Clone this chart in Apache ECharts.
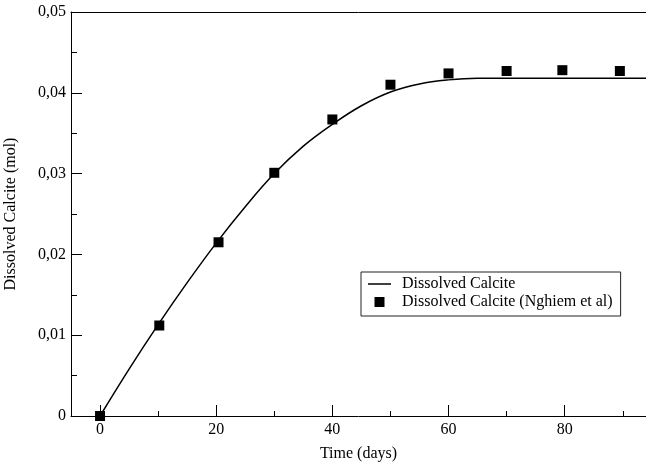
<!DOCTYPE html>
<html>
<head>
<meta charset="utf-8">
<script src="https://cdn.jsdelivr.net/npm/echarts@6/dist/echarts.min.js"></script>
<style>
html,body{margin:0;padding:0;background:#fff;}
#chart{width:646px;height:468px;}
</style>
</head>
<body>
<div id="chart"></div>
<script>
// Model curve (Dissolved Calcite)
const curveDays   = [0, 5, 10, 15, 20, 25, 30, 35, 40, 45, 50, 55, 60, 65, 70, 75, 80, 85, 90, 95];
const curveValues = [0, 0.0058, 0.0113, 0.0165, 0.0214, 0.0259, 0.0300, 0.0334, 0.0361, 0.0384, 0.0401, 0.0411, 0.0416, 0.0418, 0.0418, 0.0418, 0.0418, 0.0418, 0.0418, 0.0418];
// Observations (Nghiem et al)
const obsDays   = [0, 10.2, 20.4, 30, 40, 50, 60, 70, 79.6, 89.5];
const obsValues = [0, 0.0112, 0.0215, 0.0301, 0.0367, 0.0410, 0.0424, 0.0427, 0.0428, 0.0427];
// Axis ticks
const xMajorTicks = [0, 20, 40, 60, 80];
const xMinorTicks = [10, 30, 50, 70, 90];
const lineName = 'Dissolved Calcite';
const obsName = 'Dissolved Calcite (Nghiem et al)';

const FONT = 'Liberation Serif';
const chart = echarts.init(document.getElementById('chart'));
chart.setOption({
  animation: false,
  backgroundColor: '#fff',
  grid: { left: 71, right: 0, top: 12, bottom: 52, containLabel: false, outerBoundsMode: 'none' },
  legend: {
    orient: 'vertical',
    left: 361, top: 272,
    padding: [4, 8, 6, 7],
    itemGap: 2,
    itemWidth: 23, itemHeight: 10,
    borderColor: '#222', borderWidth: 1,
    textStyle: { fontFamily: FONT, fontSize: 16, color: '#000', padding: [0, 0, 0, 6] },
    data: [
      { name: lineName, icon: 'path://M0,0L23,0L23,1.5L0,1.5Z' },
      { name: obsName, icon: 'path://M0,0L1,0L1,1L0,1Z' }
    ]
  },
  xAxis: [
    {
      type: 'value', min: -5, max: 94, position: 'bottom',
      name: 'Time (days)', nameLocation: 'middle', nameGap: 30,
      nameTextStyle: { fontFamily: FONT, fontSize: 16, color: '#000' },
      axisLine: { show: true, onZero: false, lineStyle: { color: '#000', width: 1 } },
      axisTick: { show: true, inside: true, length: 11, customValues: xMajorTicks, lineStyle: { color: '#000' } },
      axisLabel: { customValues: xMajorTicks, fontFamily: FONT, fontSize: 16, color: '#000', margin: 6 },
      splitLine: { show: false }
    },
    {
      type: 'value', min: -5, max: 94, position: 'bottom',
      axisLine: { show: false, onZero: false },
      axisTick: { show: true, inside: true, length: 5, customValues: xMinorTicks, lineStyle: { color: '#000' } },
      axisLabel: { show: false },
      splitLine: { show: false }
    },
    {
      type: 'value', min: -5, max: 94, position: 'top',
      axisLine: { show: true, onZero: false, lineStyle: { color: '#000', width: 1 } },
      axisTick: { show: false },
      axisLabel: { show: false },
      splitLine: { show: false }
    }
  ],
  yAxis: {
    type: 'value', min: 0, max: 0.05, interval: 0.01,
    name: 'Dissolved Calcite (mol)', nameLocation: 'middle', nameGap: 52,
    nameTextStyle: { fontFamily: FONT, fontSize: 16, color: '#000' },
    axisLine: { show: true, onZero: false, lineStyle: { color: '#000', width: 1 } },
    axisTick: { show: true, inside: true, length: 11, lineStyle: { color: '#000' } },
    minorTick: { show: true, splitNumber: 2, length: 6, lineStyle: { color: '#000' } },
    axisLabel: {
      fontFamily: FONT, fontSize: 16, color: '#000', margin: 5,
      formatter: v => (v === 0 ? '0' : v.toFixed(2).replace('.', ','))
    },
    splitLine: { show: false },
    minorSplitLine: { show: false }
  },
  series: [
    {
      name: lineName, type: 'line', xAxisIndex: 0,
      data: curveDays.map((d, i) => [d, curveValues[i]]),
      smooth: 0.4, symbol: 'none', showSymbol: false,
      lineStyle: { color: '#000', width: 1.5 },
      itemStyle: { color: '#000' },
      clip: true, z: 2
    },
    {
      name: obsName, type: 'scatter', xAxisIndex: 0,
      data: obsDays.map((d, i) => [d, obsValues[i]]),
      symbol: 'rect', symbolSize: 10,
      itemStyle: { color: '#000', opacity: 1 },
      z: 3
    }
  ]
});
</script>
</body>
</html>
